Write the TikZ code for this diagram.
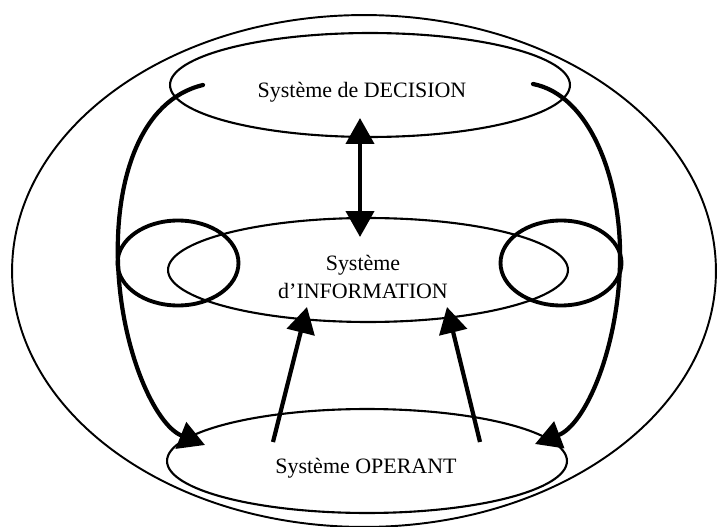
\documentclass[tikz,border=0pt]{standalone}
\usepackage{fontspec}
\setmainfont{Liberation Serif}
\usetikzlibrary{shapes.geometric,arrows.meta}

\tikzset{
    >={Triangle[length=0.52cm,width=0.56cm]},
    syst/.style={draw, ellipse, line width=1.2pt, minimum width=8cm, minimum height=2.08cm, inner sep=0pt},
    loopbox/.style={draw, ellipse, line width=2.2pt, minimum width=2.42cm, minimum height=1.7cm, inner sep=0pt},
    flow/.style={line width=2.4pt, ->},
    lbl/.style={font=\fontsize{12.5}{15.5}\selectfont, align=center}
}

\begin{document}
\begin{tikzpicture}[x=0.02cm, y=-0.02cm]
    \useasboundingbox (0,0) rectangle (717,527);

    % Outer ellipse
    \node (outer) [draw, ellipse, line width=1.1pt, minimum width=14.08cm, minimum height=10.24cm, inner sep=0pt] at (364,271) {};

    % The three systems
    \node (dec) [syst] at (370,85) {};
    \node (info) [syst] at (368,270) {};
    \node (oper) [syst] at (367,461) {};

    \node (dec-t) [lbl] at (362,92) {Système de DECISION};
    \node (info-t) [lbl] at (363,277) {Système\\d’INFORMATION};
    \node (oper-t) [lbl] at (366,468) {Système OPERANT};

    % Loops on both sides of the information system
    \node (loop-l) [loopbox] at (178,263) {};
    \node (loop-r) [loopbox] at (561,263) {};

    % Decision <-> information
    \coordinate (dec-in) at (360,118);
    \coordinate (info-in) at (360,237);
    \draw[flow, <->] (dec-in) -- (info-in);

    % Decision -> operant, round both sides
    \coordinate (dec-l) at (203,85);
    \coordinate (oper-l) at (205,445);
    \draw[flow, line cap=round] (dec-l) .. controls (140,100) and (115,180) .. (118,263) .. controls (121,350) and (155,425) .. (oper-l);

    \coordinate (dec-r) at (533,84);
    \coordinate (oper-r) at (535,444);
    \draw[flow, line cap=round] (dec-r) .. controls (590,95) and (622,180) .. (620,263) .. controls (618,350) and (585,425) .. (oper-r);

    % Operant -> information
    \coordinate (oper-a) at (273,442);
    \coordinate (info-a) at (307,307);
    \draw[flow] (oper-a) -- (info-a);

    \coordinate (oper-b) at (480,442);
    \coordinate (info-b) at (447,307);
    \draw[flow] (oper-b) -- (info-b);
\end{tikzpicture}
\end{document}
